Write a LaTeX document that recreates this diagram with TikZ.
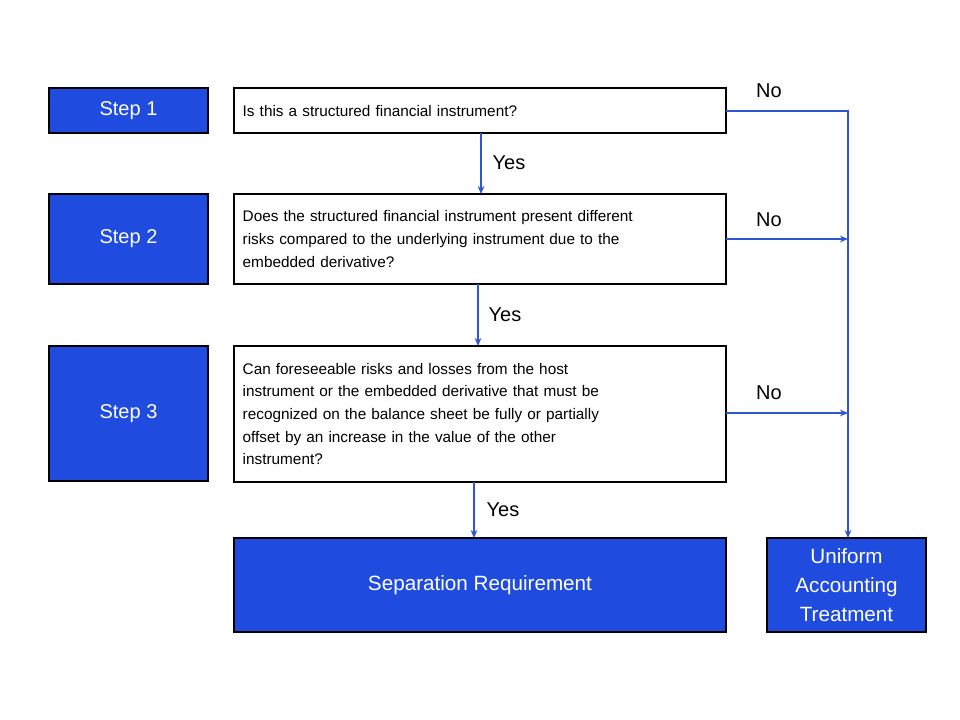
\documentclass[tikz,border=0pt]{standalone}
\usepackage{fontspec}
\setmainfont{Liberation Sans}
\usetikzlibrary{arrows.meta}
\definecolor{bf}{HTML}{1F4BDF}
\definecolor{bl}{HTML}{2F55D4}
\begin{document}
\begin{tikzpicture}[x=0.75pt,y=-0.75pt,
 stp/.style={draw=black,line width=1.2pt,fill=bf,text=white,font=\fontsize{15}{18}\selectfont},
 q/.style={font=\fontsize{11.5}{17}\selectfont,align=left,text width=355pt,anchor=west},
 lab/.style={font=\fontsize{15}{18}\selectfont},
 ar/.style={draw=bl,line width=0.8pt,-{Stealth[length=6pt,width=5pt]}}]
\useasboundingbox (0,0) rectangle (960,720);
\path[stp] (49,88) rectangle (208,133) node[midway] (s1) {Step 1};
\path[stp] (49,194) rectangle (208,284) node[midway] (s2) {Step 2};
\path[stp] (49,346) rectangle (208,481) node[midway] (s3) {Step 3};
\draw[line width=1.2pt] (234,88) rectangle (726,133);
\draw[line width=1.2pt] (234,194) rectangle (726,284);
\draw[line width=1.2pt] (234,346) rectangle (726,482);
\node[q] (q1) at (238,111) {Is this a structured financial instrument?};
\node[q] (q2) at (238,239) {Does the structured financial instrument present different\\risks compared to the underlying instrument due to the\\embedded derivative?};
\node[q] (q3) at (238,414) {Can foreseeable risks and losses from the host\\instrument or the embedded derivative that must be\\recognized on the balance sheet be fully or partially\\offset by an increase in the value of the other\\instrument?};
\path[stp] (234,538) rectangle (726,632) node[midway,font=\fontsize{15.5}{18}\selectfont] (sep) {Separation Requirement};
\path[stp] (767,538) rectangle (926,632) node[midway,align=center,font=\fontsize{15.5}{21.5}\selectfont] (uni) {Uniform\\Accounting\\Treatment};
\coordinate (c1) at (726,111);
\coordinate (r1) at (848,111);
\coordinate (r2) at (848,239);
\coordinate (r3) at (848,413);
\coordinate (r4) at (848,538);
\draw[ar] (c1) -- (r1) -- (r4);
\draw[ar] (726,239) -- (r2);
\draw[ar] (726,413) -- (r3);
\draw[ar] (481,133) -- (481,194);
\draw[ar] (478,284) -- (478,346);
\draw[ar] (474,482) -- (474,538);
\node[lab] (n1) at (769,91) {No};
\node[lab] (n2) at (769,220) {No};
\node[lab] (n3) at (769,393) {No};
\node[lab] (y1) at (509,163) {Yes};
\node[lab] (y2) at (505,315) {Yes};
\node[lab] (y3) at (503,510) {Yes};
\end{tikzpicture}
\end{document}
